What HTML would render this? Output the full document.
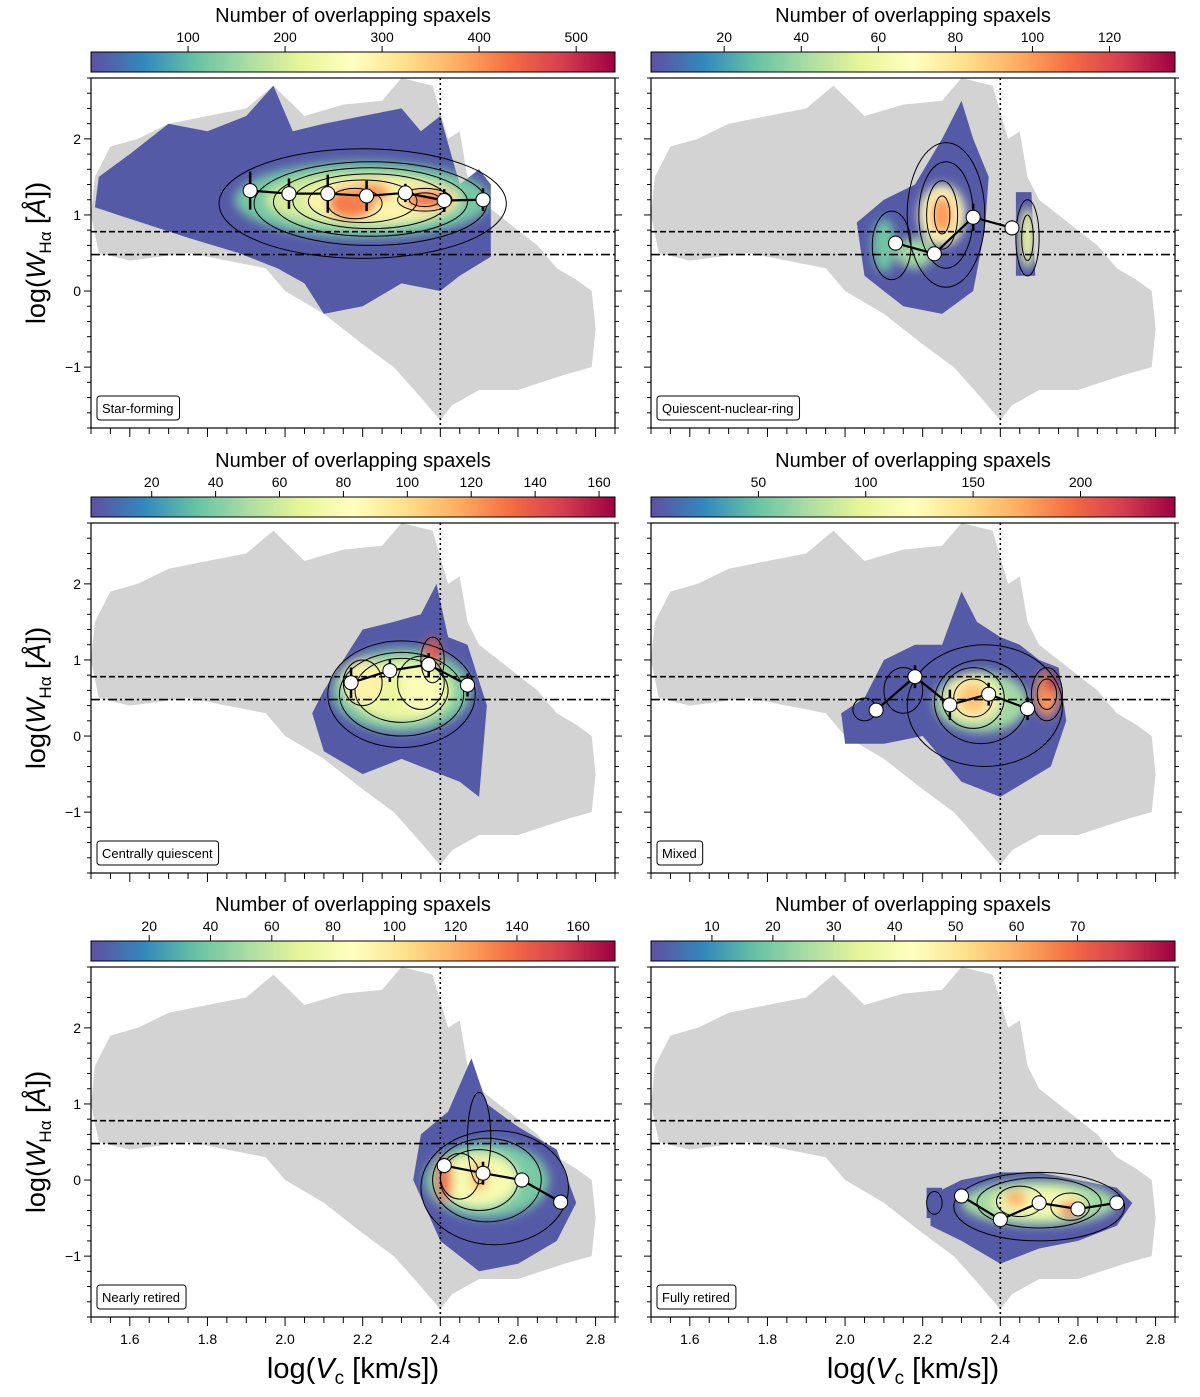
<!DOCTYPE html>
<html><head><meta charset="utf-8"><style>
body{margin:0;background:#fff}
svg{display:block;font-family:"Liberation Sans","DejaVu Sans",sans-serif}
</style></head><body>
<svg id="fig" width="1200" height="1397" viewBox="0 0 1200 1397"></svg>
<script>
// ---- data ----
const xDomain=[1.5,2.85];
const yDomain=[-1.8,2.8];
const xTicks=[1.6,1.8,2.0,2.2,2.4,2.6,2.8];
const yTicks=[-1,0,1,2];
const grayCloud=[[1.51,1.5],[1.55,1.9],[1.62,2.0],[1.7,2.2],[1.8,2.3],[1.9,2.4],[1.97,2.7],[2.05,2.3],[2.15,2.45],[2.25,2.5],[2.3,2.8],[2.38,2.7],[2.42,2.0],[2.45,2.1],[2.47,1.5],[2.5,1.2],[2.55,1.0],[2.6,0.8],[2.65,0.6],[2.7,0.3],[2.75,0.15],[2.79,0.0],[2.8,-0.5],[2.79,-1.0],[2.72,-1.1],[2.6,-1.3],[2.5,-1.3],[2.43,-1.5],[2.4,-1.7],[2.35,-1.4],[2.28,-1.0],[2.2,-0.7],[2.1,-0.3],[2.0,0.0],[1.95,0.3],[1.85,0.4],[1.75,0.5],[1.6,0.4],[1.52,0.5],[1.5,1.0]];
const panelNames=["Star-forming","Quiescent-nuclear-ring","Centrally quiescent","Mixed","Nearly retired","Fully retired"];
const cbDomains=[[0,540],[1,137],[1,165],[0,244],[1,172],[0,86]];
const cbTicks=[[100,200,300,400,500],[20,40,60,80,100,120],[20,40,60,80,100,120,140,160],[50,100,150,200],[20,40,60,80,100,120,140,160],[10,20,30,40,50,60,70]];
const spreadRegions=[
 [[[1.51,1.1],[1.52,1.5],[1.6,1.8],[1.7,2.2],[1.8,2.1],[1.9,2.3],[1.97,2.7],[2.02,2.1],[2.1,2.2],[2.2,2.3],[2.3,2.4],[2.35,2.1],[2.4,2.3],[2.45,1.4],[2.5,1.6],[2.53,1.4],[2.53,0.45],[2.45,0.2],[2.4,0.0],[2.3,0.1],[2.2,-0.2],[2.1,-0.3],[2.05,0.1],[1.98,0.3],[1.88,0.5],[1.75,0.7],[1.6,0.95]]],
 [[[2.03,0.9],[2.1,1.2],[2.18,1.4],[2.25,2.0],[2.3,2.5],[2.33,2.0],[2.37,1.5],[2.36,0.8],[2.33,0.0],[2.25,-0.3],[2.15,-0.2],[2.05,0.2]],[[2.44,0.2],[2.44,1.3],[2.48,1.3],[2.49,0.2]]],
 [[[2.1,0.6],[2.15,1.0],[2.2,1.4],[2.28,1.5],[2.35,1.6],[2.39,2.0],[2.42,1.3],[2.47,1.2],[2.52,0.4],[2.5,-0.8],[2.45,-0.6],[2.3,-0.3],[2.2,-0.5],[2.1,-0.2],[2.07,0.3]]],
 [[[1.99,0.3],[2.05,0.5],[2.1,1.0],[2.18,1.2],[2.25,1.2],[2.3,1.9],[2.34,1.5],[2.4,1.3],[2.45,1.2],[2.5,1.0],[2.55,0.9],[2.57,0.2],[2.53,-0.4],[2.4,-0.8],[2.3,-0.6],[2.2,0.0],[2.1,-0.1],[2.0,-0.1]]],
 [[[2.35,0.6],[2.42,0.9],[2.48,1.6],[2.52,1.0],[2.6,0.7],[2.7,0.4],[2.75,-0.3],[2.7,-0.8],[2.6,-1.1],[2.5,-1.2],[2.4,-0.8],[2.33,0.0]]],
 [[[2.22,-0.2],[2.3,0.0],[2.4,0.1],[2.5,0.1],[2.6,0.0],[2.7,-0.1],[2.74,-0.3],[2.7,-0.6],[2.6,-0.8],[2.5,-0.9],[2.4,-1.1],[2.3,-0.8],[2.22,-0.6]],[[2.21,-0.1],[2.25,-0.1],[2.25,-0.5],[2.21,-0.5]]]
];
// blobs: [cx, cy, rx, ry, count]
const densityBlobs=[
 [[2.2,1.2,0.33,0.5,120],[2.2,1.2,0.25,0.35,200],[2.25,1.2,0.2,0.28,290],[2.17,1.15,0.06,0.2,420],[2.22,1.3,0.05,0.12,400],[2.37,1.2,0.06,0.12,430]],
 [[2.25,1.0,0.06,0.4,70],[2.25,1.0,0.03,0.25,100],[2.18,0.5,0.05,0.2,40],[2.47,0.7,0.02,0.4,60],[2.1,0.6,0.03,0.35,30]],
 [[2.3,0.6,0.18,0.55,40],[2.3,0.6,0.13,0.4,70],[2.2,0.7,0.05,0.3,90],[2.38,1.1,0.02,0.2,140],[2.35,0.6,0.05,0.3,80]],
 [[2.35,0.45,0.12,0.4,70],[2.33,0.5,0.07,0.3,130],[2.33,0.5,0.04,0.2,160],[2.52,0.55,0.03,0.3,180],[2.53,0.7,0.015,0.12,230]],
 [[2.52,0.0,0.16,0.5,40],[2.5,0.0,0.1,0.35,80],[2.41,0.0,0.02,0.3,140],[2.5,0.05,0.02,0.2,120]],
 [[2.5,-0.3,0.2,0.3,25],[2.5,-0.3,0.12,0.2,40],[2.44,-0.25,0.03,0.1,60],[2.58,-0.38,0.03,0.1,65]]
];
// contours: [cx, cy, rx, ry]
const contourRings=[
 [[2.2,1.15,0.37,0.72],[2.22,1.15,0.3,0.55],[2.22,1.17,0.25,0.45],[2.22,1.18,0.2,0.36],[2.2,1.18,0.14,0.28],[2.18,1.15,0.07,0.2],[2.36,1.2,0.07,0.15],[2.36,1.2,0.04,0.09]],
 [[2.26,1.0,0.1,0.95],[2.26,1.0,0.07,0.7],[2.25,1.0,0.04,0.45],[2.25,1.0,0.02,0.25],[2.12,0.6,0.05,0.45],[2.47,0.7,0.03,0.5],[2.47,0.7,0.015,0.3]],
 [[2.3,0.55,0.19,0.7],[2.3,0.55,0.16,0.55],[2.3,0.6,0.12,0.42],[2.2,0.7,0.05,0.3],[2.35,0.7,0.06,0.35],[2.38,1.0,0.03,0.3]],
 [[2.36,0.4,0.2,0.8],[2.35,0.45,0.12,0.55],[2.33,0.5,0.08,0.4],[2.33,0.5,0.05,0.25],[2.52,0.55,0.04,0.35],[2.52,0.55,0.025,0.2],[2.15,0.6,0.05,0.3],[2.05,0.35,0.03,0.15]],
 [[2.54,-0.1,0.19,0.75],[2.52,0.0,0.14,0.55],[2.5,0.0,0.1,0.4],[2.45,0.05,0.05,0.3],[2.5,0.55,0.03,0.6]],
 [[2.5,-0.35,0.22,0.45],[2.5,-0.3,0.16,0.33],[2.45,-0.28,0.06,0.2],[2.58,-0.35,0.05,0.18],[2.23,-0.3,0.02,0.15]]
];
const medianX=[[1.91,2.01,2.11,2.21,2.31,2.41,2.51],[2.13,2.23,2.33,2.43],[2.17,2.27,2.37,2.47],[2.08,2.18,2.27,2.37,2.47],[2.41,2.51,2.61,2.71],[2.30,2.40,2.50,2.60,2.70]];
const medianY=[[1.32,1.28,1.28,1.25,1.29,1.19,1.2],[0.63,0.49,0.97,0.83],[0.70,0.86,0.94,0.67],[0.34,0.78,0.41,0.55,0.36],[0.19,0.09,0.0,-0.29],[-0.21,-0.52,-0.30,-0.38,-0.30]];
const medianErr=[[0.25,0.2,0.25,0.2,0.12,0.15,0.15],[0.1,0.05,0.18,0.1],[0.2,0.15,0.15,0.15],[0.1,0.15,0.2,0.15,0.15],[0.1,0.15,0.1,0.1],[0.05,0.08,0.1,0.05,0.05]];
const thrDashed=0.78, thrDashDot=0.48, vcLine=2.4;

// ---- rendering ----
const NS="http://www.w3.org/2000/svg";
const svg=document.getElementById('fig');
function mk(tag,attrs,parent){const e=document.createElementNS(NS,tag);for(const k in attrs)e.setAttribute(k,attrs[k]);(parent||svg).appendChild(e);return e;}
const stops=['#5e4fa2','#3288bd','#66c2a5','#abdda4','#e6f598','#ffffbf','#fee08b','#fdae61','#f46d43','#d53e4f','#9e0142'];
function hex(h){return [1,3,5].map(i=>parseInt(h.substr(i,2),16));}
function cmap(t){t=Math.max(0,Math.min(1,t));const p=t*10,i=Math.min(9,Math.floor(p)),f=p-i;const a=hex(stops[i]),b=hex(stops[i+1]);return 'rgb('+a.map((v,k)=>Math.round(v+(b[k]-v)*f)).join(',')+')';}
const defs=mk('defs',{});
const lg=mk('linearGradient',{id:'spec',x1:0,x2:1,y1:0,y2:0},defs);
stops.forEach((c,i)=>mk('stop',{offset:(i*10)+'%','stop-color':c},lg));
const flt=mk('filter',{id:'blur',x:'-20%',y:'-20%',width:'140%',height:'140%'},defs);
mk('feGaussianBlur',{stdDeviation:5},flt);

const PW=524,PH=350;
const colX=[91,651], rowY=[78,523,967];
for(let p=0;p<6;p++){
  const col=p%2,row=Math.floor(p/2);
  const L=colX[col],T=rowY[row];
  const sx=v=>L+(v-xDomain[0])/(xDomain[1]-xDomain[0])*PW;
  const sy=v=>T+PH-(v-yDomain[0])/(yDomain[1]-yDomain[0])*PH;
  const g=mk('g',{});
  
  
  const cp=mk('clipPath',{id:'clip'+p},defs);mk('rect',{x:L,y:T,width:PW,height:PH},cp);
  const pts=a=>a.map(q=>sx(q[0]).toFixed(1)+','+sy(q[1]).toFixed(1)).join(' ');
  const plot=mk('g',{'clip-path':'url(#clip'+p+')'},g);
  const gc=mk('polygon',{points:pts(grayCloud),fill:'#d3d3d3'},plot);
  
  
  // spread region clip
  const rc=mk('clipPath',{id:'reg'+p},defs);
  spreadRegions[p].forEach(r=>mk('polygon',{points:pts(r)},rc));
  const dens=mk('g',{'clip-path':'url(#reg'+p+')'},plot);
  
  
  mk('rect',{x:L,y:T,width:PW,height:PH,fill:cmap(0.02)},dens);
  const bg=mk('g',{filter:'url(#blur)'},dens);
  const dom=cbDomains[p];
  densityBlobs[p].forEach(b=>{
    const e=mk('ellipse',{cx:sx(b[0]),cy:sy(b[1]),rx:b[2]/(xDomain[1]-xDomain[0])*PW,ry:b[3]/(yDomain[1]-yDomain[0])*PH,fill:cmap((b[4]-dom[0])/(dom[1]-dom[0]))},bg);
    
    
  });
  contourRings[p].forEach(c=>{
    const e=mk('ellipse',{cx:sx(c[0]),cy:sy(c[1]),rx:c[2]/(xDomain[1]-xDomain[0])*PW,ry:c[3]/(yDomain[1]-yDomain[0])*PH,fill:'none',stroke:'#000','stroke-width':1},plot);
    
    
  });
  // reference lines
  const l1=mk('line',{x1:L,x2:L+PW,y1:sy(thrDashed),y2:sy(thrDashed),stroke:'#000','stroke-width':1.6,'stroke-dasharray':'6,3'},plot);
  
  const l2=mk('line',{x1:L,x2:L+PW,y1:sy(thrDashDot),y2:sy(thrDashDot),stroke:'#000','stroke-width':1.6,'stroke-dasharray':'9,3,2,3'},plot);
  
  const l3=mk('line',{x1:sx(vcLine),x2:sx(vcLine),y1:T,y2:T+PH,stroke:'#000','stroke-width':1.6,'stroke-dasharray':'2,3'},plot);
  
  // medians
  const mx=medianX[p],my=medianY[p],me=medianErr[p];
  const ml=mk('polyline',{points:mx.map((v,i)=>sx(v)+','+sy(my[i])).join(' '),fill:'none',stroke:'#000','stroke-width':2.2},plot);
  
  mx.forEach((v,i)=>{
    const eb=mk('line',{x1:sx(v),x2:sx(v),y1:sy(my[i]-me[i]),y2:sy(my[i]+me[i]),stroke:'#000','stroke-width':2.5},plot);
    
  });
  mx.forEach((v,i)=>{
    const c=mk('circle',{cx:sx(v),cy:sy(my[i]),r:7,fill:'#fff',stroke:'#000','stroke-width':1},plot);
    
  });
  // frame
  const fr=mk('rect',{x:L,y:T,width:PW,height:PH,fill:'none',stroke:'#000','stroke-width':1.2},g);
  
  // y ticks
  for(let v=-1.8;v<=2.81;v+=0.2){const vv=Math.round(v*10)/10;const y=sy(vv);const maj=yTicks.includes(vv);
    mk('line',{x1:L-(maj?7:4),x2:L,y1:y,y2:y,stroke:'#000','stroke-width':1},g);
    mk('line',{x1:L+PW,x2:L+PW+(maj?7:4),y1:y,y2:y,stroke:'#000','stroke-width':1},g);}
  if(col===0) yTicks.forEach(v=>{const t=mk('text',{x:L-10,y:sy(v)+5,'text-anchor':'end','font-size':14},g);t.textContent=v===-1?'\u22121':String(v);
    });
  // x ticks
  for(let v=1.5;v<=2.851;v+=0.05){const vv=Math.round(v*100)/100;const x=sx(vv);const maj=xTicks.some(t=>Math.abs(t-vv)<1e-6);
    mk('line',{x1:x,x2:x,y1:T+PH,y2:T+PH+(maj?9:6),stroke:'#000','stroke-width':1},g);}
  if(row===2) xTicks.forEach(v=>{const t=mk('text',{x:sx(v),y:T+PH+27,'text-anchor':'middle','font-size':14},g);t.textContent=v.toFixed(1);
    });
  // legend box
  const lb=mk('g',{},g);
  const lt=mk('text',{x:L+11,y:T+PH-15,'font-size':13},lb);lt.textContent=panelNames[p];
  const w=lt.getComputedTextLength();
  mk('rect',{x:L+6,y:T+PH-32,width:w+11,height:24,rx:3,fill:'#fff',stroke:'#000','stroke-width':1},lb);
  lb.appendChild(lt);
  // colorbar
  const cy=T-26;
  const cb=mk('g',{},g);
  mk('rect',{x:L,y:cy,width:PW,height:20,fill:'url(#spec)',stroke:'#000','stroke-width':1},cb);
  cbTicks[p].forEach(v=>{const x=L+(v-dom[0])/(dom[1]-dom[0])*PW;
    mk('line',{x1:x,x2:x,y1:cy-6,y2:cy,stroke:'#000','stroke-width':1},cb);
    const t=mk('text',{x:x,y:cy-10,'text-anchor':'middle','font-size':14},cb);t.textContent=v;
    });
  const ct=mk('text',{x:L+PW/2,y:cy-30,'text-anchor':'middle','font-size':20},cb);ct.textContent='Number of overlapping spaxels';
  
}
// axis titles
[253,698,1142].forEach(cy=>{
  const t=mk('text',{transform:'translate(45,'+cy+') rotate(-90)','text-anchor':'middle','font-size':27});
  
  t.innerHTML='log(<tspan font-style="italic">W</tspan><tspan font-size="17" dy="6">H\u03b1</tspan><tspan dy="-6"> [</tspan><tspan font-style="italic">\u00c5</tspan>])';
});
[353,913].forEach(cx=>{
  const t=mk('text',{x:cx,y:1378,'text-anchor':'middle','font-size':29});
  
  t.innerHTML='log(<tspan font-style="italic">V</tspan><tspan font-size="19" dy="6">c</tspan><tspan dy="-6"> [km/s])</tspan>';
});
</script>
</body></html>
